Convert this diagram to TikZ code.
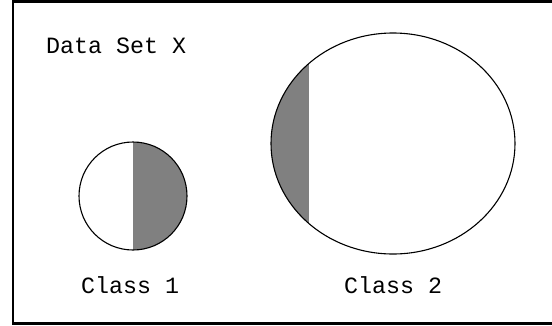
\documentclass[tikz,border=0pt]{standalone}
\usepackage{fontspec}
\newfontfamily\setfont{Liberation Mono}
\usetikzlibrary{calc}

\tikzset{
  outline/.style={line width=1.1pt},
  part/.style={fill=black!50},
  label/.style={font=\setfont\fontsize{23.3}{23.3}\selectfont, inner sep=0pt, anchor=base west}
}

\begin{document}
\begin{tikzpicture}[x=1pt, y=-1pt]
    \useasboundingbox (0,0) rectangle (552,325);
    \clip (0,0) rectangle (552,325);
    \fill[white] (0,0) rectangle (552,325);
    % frame, cut off on the right
    \draw[line width=2.6pt] (13,1.3) rectangle (575,323.7);
    \coordinate (C1) at (133,196);
    \coordinate (C2) at (393,143.5);
    % class 1, right half shaded
    \begin{scope}
        \clip (C1) circle (54);
        \fill[part] (C1) ++(0,-60) rectangle ++(60,120);
    \end{scope}
    \draw[outline] (C1) circle (54);
    % class 2, left cap shaded
    \begin{scope}
        \clip (C2) ellipse (122 and 110.5);
        \fill[part] (260,20) rectangle (309,260);
    \end{scope}
    \draw[outline] (C2) ellipse (122 and 110.5);
    \node[label] (setX) at (46,53) {Data Set X};
    \node[label] (class1) at (81,293) {Class 1};
    \node[label] (class2) at (344,293) {Class 2};
\end{tikzpicture}
\end{document}
